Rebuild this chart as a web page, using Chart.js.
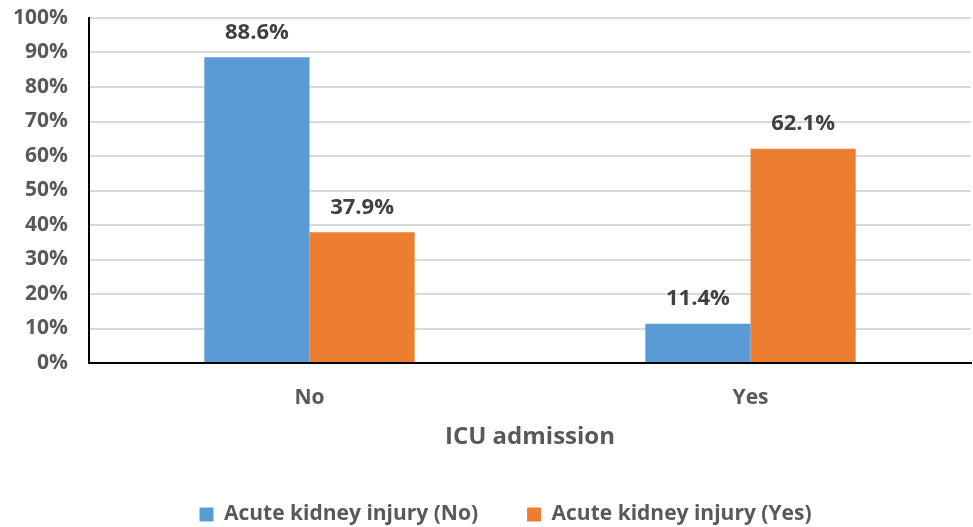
<!DOCTYPE html>
<html>
<head>
<meta charset="utf-8">
<script src="https://cdn.jsdelivr.net/npm/chart.js@4/dist/chart.umd.min.js"></script>
<style>
  html, body { margin: 0; padding: 0; background: #fff; }
  #wrap { width: 973px; height: 527px; }
</style>
</head>
<body>
<div id="wrap"><canvas id="icuChart"></canvas></div>
<script>
// Datos del gráfico
const categories = ["No", "Yes"];
const akiNo = [88.6, 11.4];
const akiYes = [37.9, 62.1];
const seriesNames = ["Acute kidney injury (No)", "Acute kidney injury (Yes)"];
const yTicks = [0, 10, 20, 30, 40, 50, 60, 70, 80, 90, 100];

const FONT = "'Open Sans', 'Liberation Sans', sans-serif";

// Etiquetas de valor encima de cada barra
const valueLabels = {
    id: "valueLabels",
    afterLayout(chart) {
        // desplazar la leyenda un poco a la derecha
        if (chart.legend) {
            chart.legend.left += 20;
            chart.legend.right += 20;
        }
    },
    afterDatasetsDraw(chart) {
        const ctx = chart.ctx;
        ctx.save();
        ctx.font = "bold 22px " + FONT;
        ctx.fillStyle = "#404040";
        ctx.textAlign = "center";
        ctx.textBaseline = "bottom";
        chart.data.datasets.forEach((ds, i) => {
            chart.getDatasetMeta(i).data.forEach((bar, j) => {
                ctx.fillText(ds.data[j].toFixed(1) + "%", bar.x, bar.y - 14);
            });
        });
        ctx.restore();
    }
};

const ctx = document.getElementById("icuChart").getContext("2d");
const icuChart = new Chart(ctx, {
    type: "bar",
    data: {
        labels: categories,
        datasets: [{
            label: seriesNames[0],
            data: akiNo,
            backgroundColor: "#5b9bd5",
            borderWidth: 0,
        }, {
            label: seriesNames[1],
            data: akiYes,
            backgroundColor: "#ed7d31",
            borderWidth: 0,
        }],
    },
    options: {
        responsive: true,
        maintainAspectRatio: false,
        animation: false,
        layout: { padding: { top: 18, right: 2, left: 0, bottom: 0 } },
        datasets: {
            bar: { categoryPercentage: 0.477, barPercentage: 1.0 }
        },
        scales: {
            x: {
                grid: { display: false },
                border: { display: true, color: "#000", width: 2 },
                ticks: {
                    color: "#595959",
                    font: { family: FONT, size: 21, weight: "bold" },
                    padding: 14,
                },
                title: {
                    display: true,
                    text: "ICU admission",
                    color: "#595959",
                    font: { family: FONT, size: 24, weight: "bold" },
                    padding: { top: 0, bottom: 3 },
                },
                afterFit: s => { s.height = 92; },
            },
            y: {
                min: 0,
                max: 100,
                afterBuildTicks: s => { s.ticks = yTicks.map(v => ({ value: v })); },
                grid: { color: "#d9d9d9", lineWidth: 2, drawTicks: true, tickLength: 17, tickColor: "rgba(0,0,0,0)" },
                border: { display: true, color: "#000", width: 2 },
                ticks: {
                    color: "#595959",
                    font: { family: FONT, size: 21, weight: "bold" },
                    padding: 4,
                    callback: v => v + "%",
                },
                afterFit: s => { s.width = 89; },
            },
        },
        plugins: {
            legend: {
                position: "bottom",
                maxHeight: 72,
                labels: {
                    color: "#595959",
                    font: { family: FONT, size: 21, weight: "bold" },
                    boxWidth: 14,
                    boxHeight: 14,
                    padding: 49,
                },
            },
            tooltip: { enabled: false },
        },
    },
    plugins: [valueLabels],
});
</script>
</body>
</html>
